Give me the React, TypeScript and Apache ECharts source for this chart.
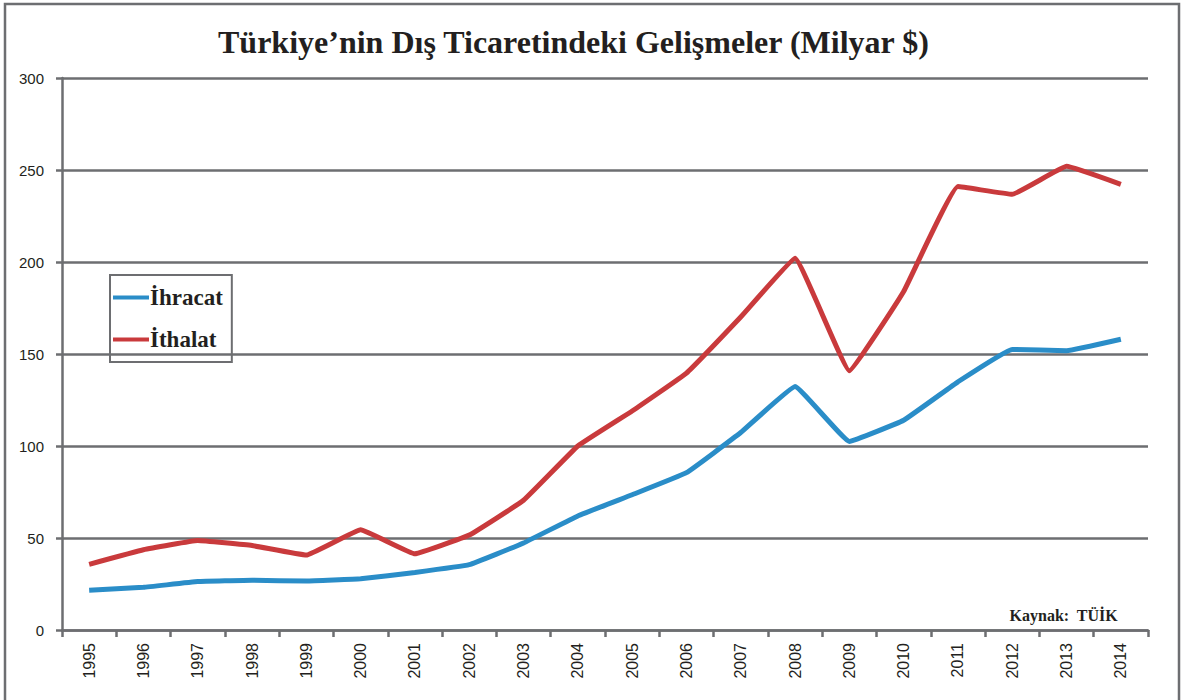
import React, { useEffect, useRef } from "react";
import * as echarts from "echarts";

const years = ["1995","1996","1997","1998","1999","2000","2001","2002","2003","2004","2005","2006","2007","2008","2009","2010","2011","2012","2013","2014"];
const ihracat = [21.6, 23.2, 26.3, 27.0, 26.6, 27.8, 31.3, 35.5, 47.3, 62.0, 73.5, 85.5, 107.3, 132.3, 102.5, 114.0, 134.9, 152.5, 151.8, 158.0];
const ithalat = [35.7, 43.6, 48.6, 45.9, 40.7, 54.5, 41.4, 51.6, 70.5, 100.0, 119.0, 139.6, 170.1, 202.0, 140.9, 184.0, 241.0, 236.8, 252.0, 242.2];
const yTicks = { min: 0, max: 300, interval: 50 };
const titleText = "Türkiye’nin Dış Ticaretindeki Gelişmeler (Milyar $)";
const sourceText = "Kaynak:  TÜİK";

const GRAY = "#6d6e71";
const TXT = "#231f20";

export default function App() {
  const ref = useRef<HTMLDivElement>(null);
  useEffect(() => {
    document.body.style.margin = "0";
    const chart = echarts.init(ref.current!, null, { renderer: "svg" });
    chart.setOption({
      animation: false,
      backgroundColor: "#ffffff",
      title: {
        text: titleText,
        left: 213,
        top: 21,
        textStyle: { fontFamily: "Liberation Serif", fontWeight: "bold", fontSize: 32, color: TXT },
      },
      legend: {
        orient: "vertical",
        left: 110,
        top: 275,
        padding: [11, 9, 11, 3],
        itemGap: 19,
        itemWidth: 36,
        itemHeight: 4,
        icon: "rect",
        borderColor: GRAY,
        borderWidth: 2,
        textStyle: { fontFamily: "Liberation Serif", fontWeight: "bold", fontSize: 23, color: TXT, padding: [0, 0, 0, -4] },
        data: ["İhracat", "İthalat"],
      },
      grid: { left: 62, right: 41, top: 78, bottom: 70 },
      xAxis: {
        type: "category",
        data: years,
        boundaryGap: true,
        axisLine: { lineStyle: { color: GRAY, width: 2.5 } },
        axisTick: { show: true, length: 7, lineStyle: { color: GRAY, width: 2.5 } },
        axisLabel: { rotate: 90, margin: 13, fontFamily: "Liberation Sans", fontSize: 16, color: TXT },
        splitLine: { show: false },
      },
      yAxis: {
        type: "value",
        min: yTicks.min,
        max: yTicks.max,
        interval: yTicks.interval,
        axisLine: { show: true, lineStyle: { color: GRAY, width: 2.5 } },
        axisTick: { show: true, length: 6, lineStyle: { color: GRAY, width: 2.5 } },
        axisLabel: { margin: 18, fontFamily: "Liberation Sans", fontSize: 15, color: TXT },
        splitLine: { show: true, lineStyle: { color: GRAY, width: 2.5 } },
      },
      series: [
        {
          name: "İhracat",
          type: "line",
          data: ihracat,
          symbol: "none",
          smooth: 0.08,
          lineStyle: { color: "#2a8dc8", width: 5 },
          itemStyle: { color: "#2a8dc8" },
        },
        {
          name: "İthalat",
          type: "line",
          data: ithalat,
          symbol: "none",
          smooth: 0.08,
          lineStyle: { color: "#c93a3c", width: 5 },
          itemStyle: { color: "#c93a3c" },
        },
      ],
      graphic: [
        {
          type: "rect",
          shape: { x: 5, y: 4, width: 1174, height: 720 },
          style: { fill: "none", stroke: GRAY, lineWidth: 2.5 },
          silent: true,
        },
        {
          type: "text",
          right: 71,
          top: 607,
          style: { text: sourceText, fontFamily: "Liberation Serif", fontWeight: "bold", fontSize: 16, fill: TXT },
        },
      ],
    });
    return () => chart.dispose();
  }, []);
  return <div ref={ref} style={{ position: "absolute", left: 0, top: 0, width: 1189, height: 700 }} />;
}
